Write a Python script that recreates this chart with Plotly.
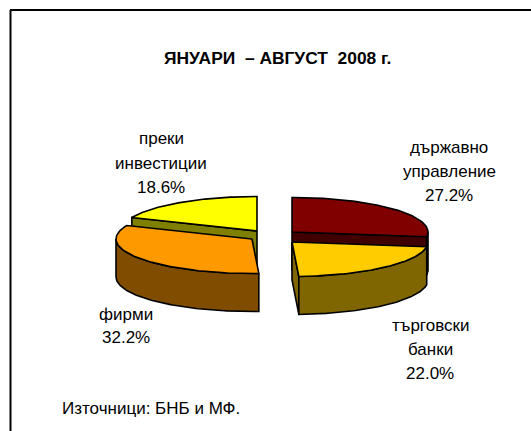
import numpy as np
import plotly.graph_objects as go

W, H = 531, 431

# Data
categories = ["държавно управление", "търговски банки", "фирми", "преки инвестиции"]
label_lines = [["държавно", "управление"], ["търговски", "банки"], ["фирми"], ["преки", "инвестиции"]]
values = [27.2, 22.0, 32.2, 18.6]
value_labels = ["27.2%", "22.0%", "32.2%", "18.6%"]
title_text = "ЯНУАРИ  – АВГУСТ  2008 г."
source_text = "Източници: БНБ и МФ."

# Styles / layout
top_colors = ["#800000", "#ffcc00", "#ff9900", "#ffff00"]
side_colors = ["#400000", "#806600", "#804d00", "#808000"]
apex = [(292, 232), (292, 242), (252, 239), (257, 231)]
RX, RY, DEPTH = 136, 34.5, 38
label_pos = [(449, [147, 171, 195]), (430, [325, 349, 373]), (126, [314, 337]), (161, [138, 163, 187])]

fig = go.Figure()


def poly(xs, ys, fill):
    fig.add_trace(go.Scatter(
        x=list(xs) + [xs[0]], y=list(ys) + [ys[0]], mode="lines", fill="toself",
        fillcolor=fill, line=dict(color="black", width=1.6), hoverinfo="skip", showlegend=False))


def rim(i, a0, a1, n=90):
    t = np.radians(np.linspace(a0, a1, n))
    return apex[i][0] + RX * np.sin(t), apex[i][1] - RY * np.cos(t)


cum = np.cumsum([0] + values) / sum(values) * 360
starts, ends = cum[:-1], cum[1:]
# which radial edge of each slice shows its cut face
face_edge = {0: "end", 1: "end", 3: "start"}


def draw(i):
    a0, a1 = starts[i], ends[i]
    cx, cy = apex[i]
    if i in face_edge:
        ang = a1 if face_edge[i] == "end" else a0
        rx, ry = rim(i, ang, ang, 1)
        poly([cx, rx[0], rx[0], cx], [cy, ry[0], ry[0] + DEPTH, cy + DEPTH], side_colors[i])
    w0, w1 = max(a0, 90), min(a1, 270)
    if w1 > w0:
        x, y = rim(i, w0, w1)
        poly(list(x) + list(x[::-1]), list(y) + list((y + DEPTH)[::-1]), side_colors[i])
    x, y = rim(i, a0, a1)
    poly([cx] + list(x), [cy] + list(y), top_colors[i])


for i in (3, 2, 0, 1):
    draw(i)

anns = []
font = dict(family="Liberation Sans", size=17, color="black")


def text(x, y, s, f=font, anchor="center"):
    anns.append(dict(x=x, y=y, xref="x", yref="y", text=s, showarrow=False, font=f,
                     xanchor=anchor, yanchor="middle"))


for i in range(4):
    cx, ys = label_pos[i]
    for s, y in zip(label_lines[i] + [value_labels[i]], ys):
        text(cx, y, s)
text(277.5, 58, "<b>" + title_text + "</b>", dict(family="Liberation Sans", size=17.4, color="black"))
text(60, 408, source_text, anchor="left")

fig.update_layout(
    width=W, height=H, margin=dict(l=0, r=0, t=0, b=0),
    paper_bgcolor="white", plot_bgcolor="white", showlegend=False,
    xaxis=dict(range=[0, W], visible=False, fixedrange=True),
    yaxis=dict(range=[H, 0], visible=False, fixedrange=True),
    annotations=anns,
    shapes=[
        dict(type="line", xref="x", yref="y", x0=10, x1=W, y0=10, y1=10, line=dict(color="black", width=2)),
        dict(type="line", xref="x", yref="y", x0=10.5, x1=10.5, y0=10, y1=H, line=dict(color="black", width=2)),
    ],
)
fig.write_html("out.html", config=dict(displayModeBar=False),
               post_script="document.body.style.margin='0';document.documentElement.style.overflow='hidden';")
